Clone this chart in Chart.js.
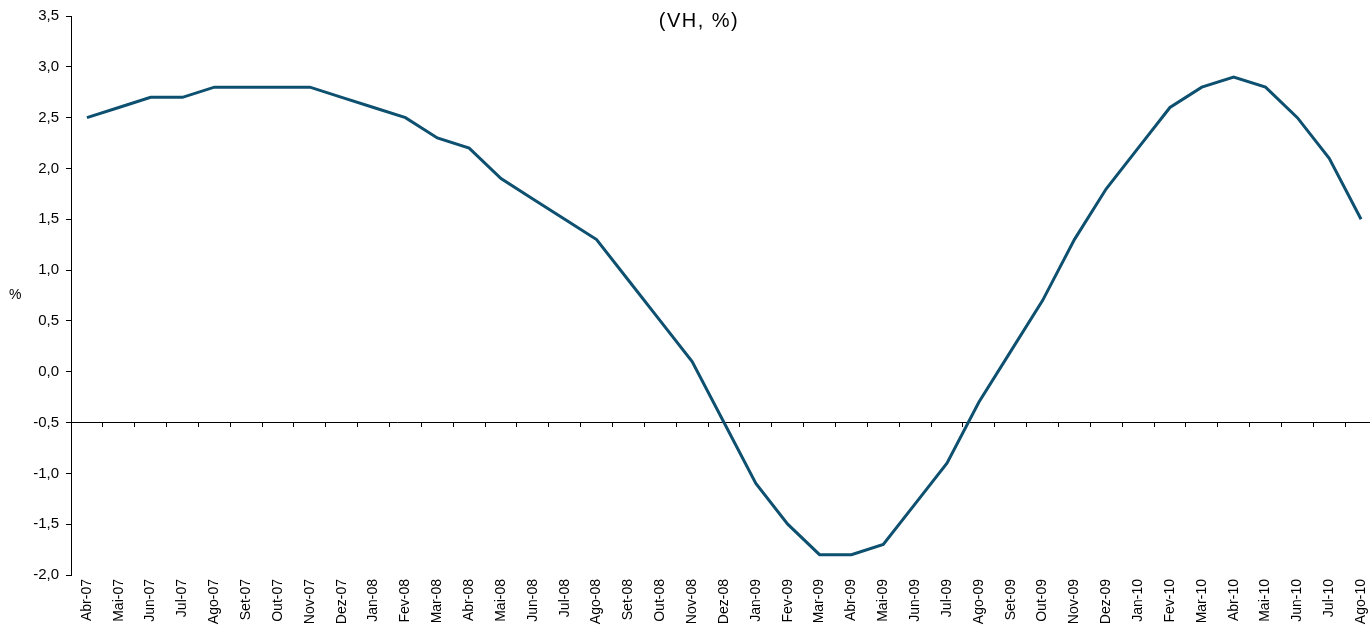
<!DOCTYPE html>
<html>
<head>
<meta charset="utf-8">
<script src="https://cdn.jsdelivr.net/npm/chart.js@4/dist/chart.umd.min.js"></script>
<style>
  body { margin: 0; background: #fff; }
  #wrap { width: 1370px; height: 629px; overflow: hidden; }
</style>
</head>
<body>
<!-- canvas is a bit wider than the page: the plot runs past the right edge -->
<div id="wrap"><canvas id="vhChart" width="1377" height="629"></canvas></div>
<script>
const months = [
    'Abr-07', 'Mai-07', 'Jun-07', 'Jul-07', 'Ago-07', 'Set-07', 'Out-07', 'Nov-07', 'Dez-07',
    'Jan-08', 'Fev-08', 'Mar-08', 'Abr-08', 'Mai-08', 'Jun-08', 'Jul-08', 'Ago-08', 'Set-08',
    'Out-08', 'Nov-08', 'Dez-08', 'Jan-09', 'Fev-09', 'Mar-09', 'Abr-09', 'Mai-09', 'Jun-09',
    'Jul-09', 'Ago-09', 'Set-09', 'Out-09', 'Nov-09', 'Dez-09', 'Jan-10', 'Fev-10', 'Mar-10',
    'Abr-10', 'Mai-10', 'Jun-10', 'Jul-10', 'Ago-10'
];
const vh = [
    2.5, 2.6, 2.7, 2.7, 2.8, 2.8, 2.8, 2.8, 2.7,
    2.6, 2.5, 2.3, 2.2, 1.9, 1.7, 1.5, 1.3, 0.9,
    0.5, 0.1, -0.5, -1.1, -1.5, -1.8, -1.8, -1.7, -1.3,
    -0.9, -0.3, 0.2, 0.7, 1.3, 1.8, 2.2, 2.6, 2.8,
    2.9, 2.8, 2.5, 2.1, 1.5
];
const yMin = -2.0;
const yMax = 3.5;
const yStep = 0.5;
const crossAt = -0.5;
const titleText = '(VH, %)';
const yTitle = '%';

const fontFamily = '"Liberation Sans", Arial, sans-serif';

// title and the unrotated "%" sit inside / beside the plot, so draw them by hand
const textPlugin = {
    id: 'extraText',
    afterDraw(chart) {
        const ctx = chart.ctx;
        ctx.save();
        ctx.fillStyle = '#000';
        ctx.textBaseline = 'middle';
        ctx.font = '20px ' + fontFamily;
        ctx.letterSpacing = '1.5px';
        ctx.textAlign = 'center';
        ctx.fillText(titleText, 699, 21);
        ctx.letterSpacing = '0px';
        ctx.font = '14px ' + fontFamily;
        ctx.textAlign = 'left';
        ctx.fillText(yTitle, 9, chart.scales.y.getPixelForValue(0.75));
        ctx.restore();
    }
};

const noEdgePad = (scale) => {
    scale.paddingLeft = 0;
    scale.paddingRight = 0;
};

new Chart(document.getElementById('vhChart'), {
    type: 'line',
    data: {
        labels: months,
        datasets: [{
            label: 'VH',
            data: vh,
            borderColor: '#0e506f',
            borderWidth: 3,
            pointRadius: 0,
            tension: 0,
            fill: false
        }]
    },
    options: {
        responsive: false,
        animation: false,
        layout: {
            padding: { top: 16, right: 0, bottom: 0, left: 0 }
        },
        plugins: {
            legend: { display: false },
            tooltip: { enabled: false },
            title: { display: false }
        },
        scales: {
            x: {
                position: 'bottom',
                offset: true,
                grid: { display: false, drawTicks: false },
                border: { display: false },
                ticks: {
                    maxRotation: 90,
                    minRotation: 90,
                    autoSkip: false,
                    padding: 4,
                    color: '#000',
                    font: { family: fontFamily, size: 14 }
                },
                afterFit(scale) {
                    scale.height = 54;
                    noEdgePad(scale);
                }
            },
            xCross: {
                type: 'category',
                labels: months,
                position: { y: crossAt },
                offset: true,
                grid: {
                    offset: true,
                    drawOnChartArea: false,
                    drawTicks: true,
                    tickLength: 4,
                    color: '#000',
                    lineWidth: 1
                },
                border: { display: true, color: '#000', width: 1 },
                ticks: { display: false, autoSkip: false },
                afterFit: noEdgePad
            },
            y: {
                min: yMin,
                max: yMax,
                grid: {
                    drawOnChartArea: false,
                    drawTicks: true,
                    tickLength: 5,
                    color: '#000'
                },
                border: { display: true, color: '#000', width: 1 },
                ticks: {
                    stepSize: yStep,
                    padding: 7,
                    color: '#000',
                    font: { family: fontFamily, size: 15 },
                    callback: (v) => Number(v).toFixed(1).replace('.', ',')
                },
                afterFit(scale) { scale.width = 71; }
            }
        }
    },
    plugins: [textPlugin]
});
</script>
</body>
</html>
